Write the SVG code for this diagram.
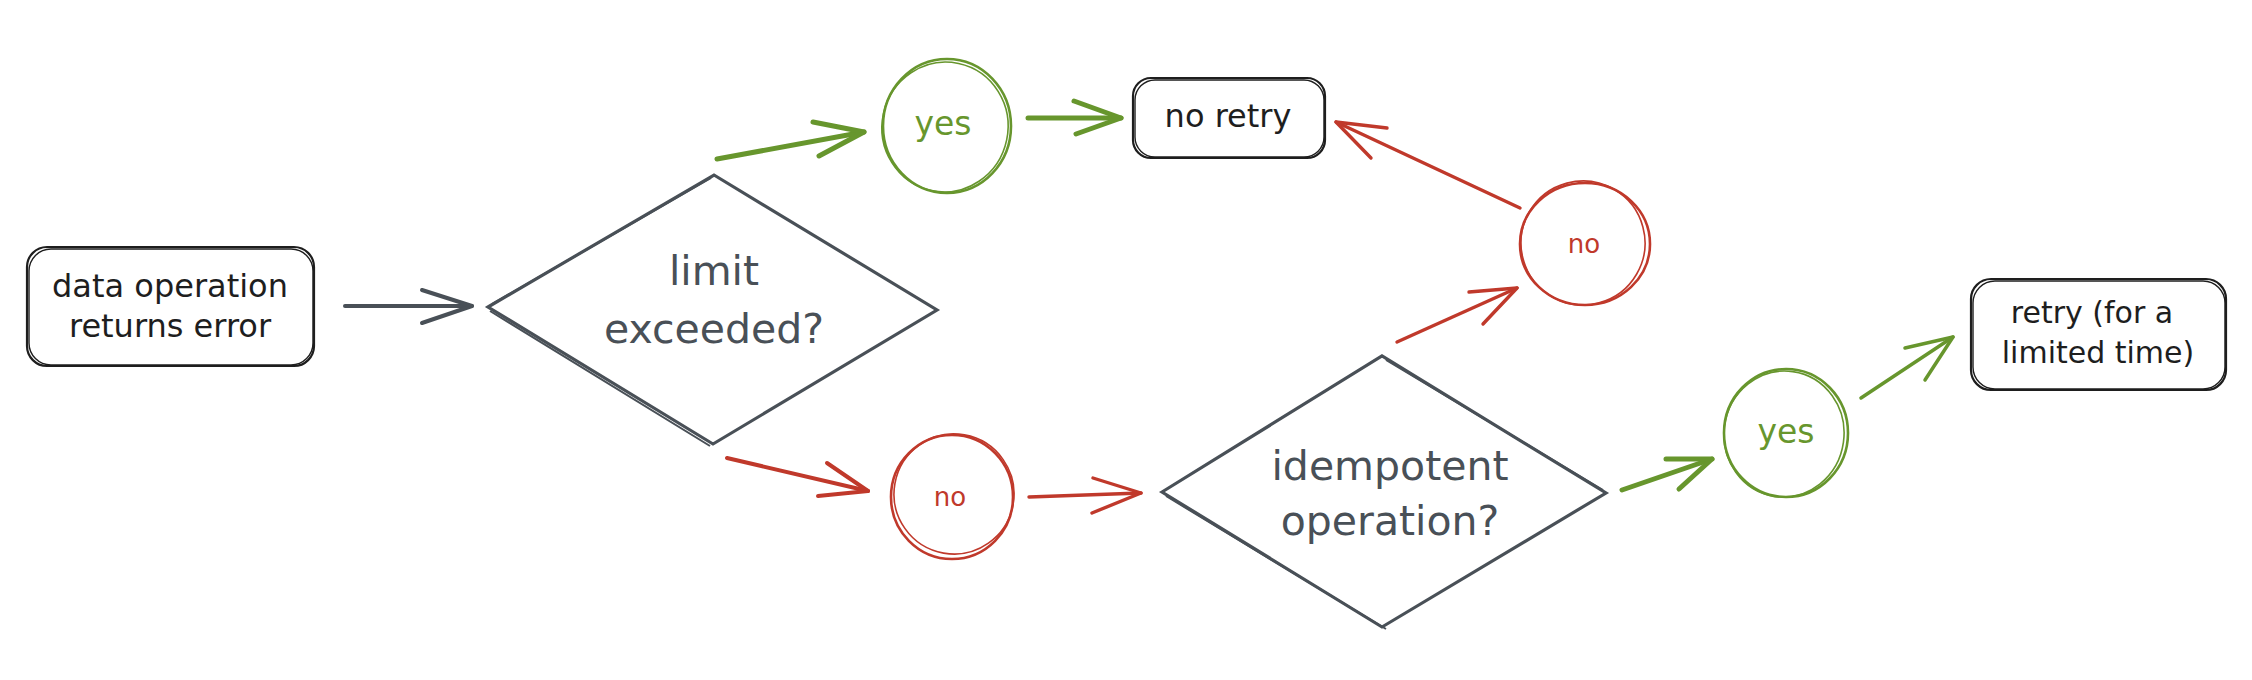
<svg xmlns="http://www.w3.org/2000/svg" width="2252" height="680" viewBox="0 0 2252 680">
<style>
text{font-family:"DejaVu Sans","Liberation Sans",sans-serif;text-anchor:middle}
.box{fill:none;stroke:#1e1e1e;stroke-width:2.2}
.box2{fill:none;stroke:#1e1e1e;stroke-width:1.4}
.dia{fill:none;stroke:#495057;stroke-width:3.2;stroke-linejoin:miter}
.dia2{fill:none;stroke:#495057;stroke-width:2}
.gc{fill:none;stroke:#67962d;stroke-width:2.6}
.gc2{fill:none;stroke:#67962d;stroke-width:1.6}
.rc{fill:none;stroke:#c0392b;stroke-width:2.6}
.rc2{fill:none;stroke:#c0392b;stroke-width:1.6}
.tb{fill:#1e1e1e;font-size:32px}
.td{fill:#495057;font-size:41px}
.tg{fill:#67962d;font-size:33px}
.tr{fill:#c0392b;font-size:26px}
.cd{fill:none;stroke:#495057;stroke-width:4;stroke-linecap:round;stroke-linejoin:round}
.cg{fill:none;stroke:#67962d;stroke-width:5;stroke-linecap:round;stroke-linejoin:round}
.cg2{fill:none;stroke:#67962d;stroke-width:3.5;stroke-linecap:round;stroke-linejoin:round}
.cr{fill:none;stroke:#c0392b;stroke-width:4;stroke-linecap:round;stroke-linejoin:round}
.cr2{fill:none;stroke:#c0392b;stroke-width:3.4;stroke-linecap:round;stroke-linejoin:round}
</style>
<rect width="2252" height="680" fill="#ffffff"/>
<g id="connectors">
<g id="c1"><path class="cd" d="M345,306 L472,306"/><path class="cd" d="M422,290 L472,306 L422,323"/></g>
<g id="c2"><path class="cg" d="M717,159 L864,132"/><path class="cg" d="M813,122 L864,132 L819,156"/></g>
<g id="c3"><path class="cg" d="M1028,118 L1121,118"/><path class="cg" d="M1074,101 L1121,118 L1076,134"/></g>
<g id="c4"><path class="cr" d="M727,458 L868,491"/><path class="cr" d="M827,463 L868,491 L818,496"/></g>
<g id="c5"><path class="cr2" d="M1029,497 L1141,493"/><path class="cr2" d="M1093,478 L1141,493 L1092,513"/></g>
<g id="c6"><path class="cr2" d="M1397,342 L1517,288"/><path class="cr2" d="M1469,292 L1517,288 L1483,324"/></g>
<g id="c7"><path class="cr2" d="M1520,208 L1336,122"/><path class="cr2" d="M1387,128 L1336,122 L1371,158"/></g>
<g id="c8"><path class="cg" d="M1622,490 L1712,459"/><path class="cg" d="M1666,459 L1712,459 L1679,489"/></g>
<g id="c9"><path class="cg2" d="M1861,398 L1953,337"/><path class="cg2" d="M1905,348 L1953,337 L1925,380"/></g>
</g>
<g id="n-start">
<rect class="box" x="27" y="247" width="287" height="119" rx="20"/>
<rect class="box2" x="29" y="249" width="284" height="116" rx="22"/>
<text class="tb" x="170" y="297">data operation</text>
<text class="tb" x="170" y="337">returns error</text>
</g>
<g id="n-limit">
<polygon class="dia" points="488,307 714,175 937,310 713,444"/>
<path class="dia2" d="M492,304 L711,178 M490,311 L710,446"/>
<text class="td" x="714" y="285">limit</text>
<text class="td" x="714" y="343">exceeded?</text>
</g>
<g id="n-yes1">
<ellipse class="gc" cx="947" cy="126" rx="64" ry="67"/>
<ellipse class="gc2" cx="945" cy="127" rx="63" ry="65" transform="rotate(12 945 127)"/>
<text class="tg" x="943" y="135">yes</text>
</g>
<g id="n-noretry">
<rect class="box" x="1133" y="78" width="192" height="80" rx="18"/>
<rect class="box2" x="1135" y="80" width="189" height="77" rx="20"/>
<text class="tb" x="1228" y="127">no retry</text>
</g>
<g id="n-no1">
<ellipse class="rc" cx="1585" cy="244" rx="65" ry="61"/>
<ellipse class="rc2" cx="1583" cy="243" rx="62" ry="62" transform="rotate(-15 1583 243)"/>
<text class="tr" x="1584" y="253">no</text>
</g>
<g id="n-no2">
<ellipse class="rc" cx="952" cy="497" rx="61" ry="62"/>
<ellipse class="rc2" cx="954" cy="494" rx="60" ry="60" transform="rotate(10 954 494)"/>
<text class="tr" x="950" y="506">no</text>
</g>
<g id="n-idem">
<polygon class="dia" points="1162,492 1382,356 1606,493 1382,627"/>
<path class="dia2" d="M1386,360 L1603,490 M1166,496 L1386,629"/>
<text class="td" x="1390" y="480">idempotent</text>
<text class="td" x="1390" y="535">operation?</text>
</g>
<g id="n-yes2">
<ellipse class="gc" cx="1786" cy="433" rx="62" ry="64"/>
<ellipse class="gc2" cx="1784" cy="434" rx="60" ry="63" transform="rotate(8 1784 434)"/>
<text class="tg" x="1786" y="443">yes</text>
</g>
<g id="n-retry">
<rect class="box" x="1971" y="279" width="255" height="111" rx="20"/>
<rect class="box2" x="1973" y="281" width="252" height="108" rx="22"/>
<text class="tb" x="2092" y="323" style="font-size:30px">retry (for a</text>
<text class="tb" x="2098" y="363" style="font-size:30px">limited time)</text>
</g>
</svg>
